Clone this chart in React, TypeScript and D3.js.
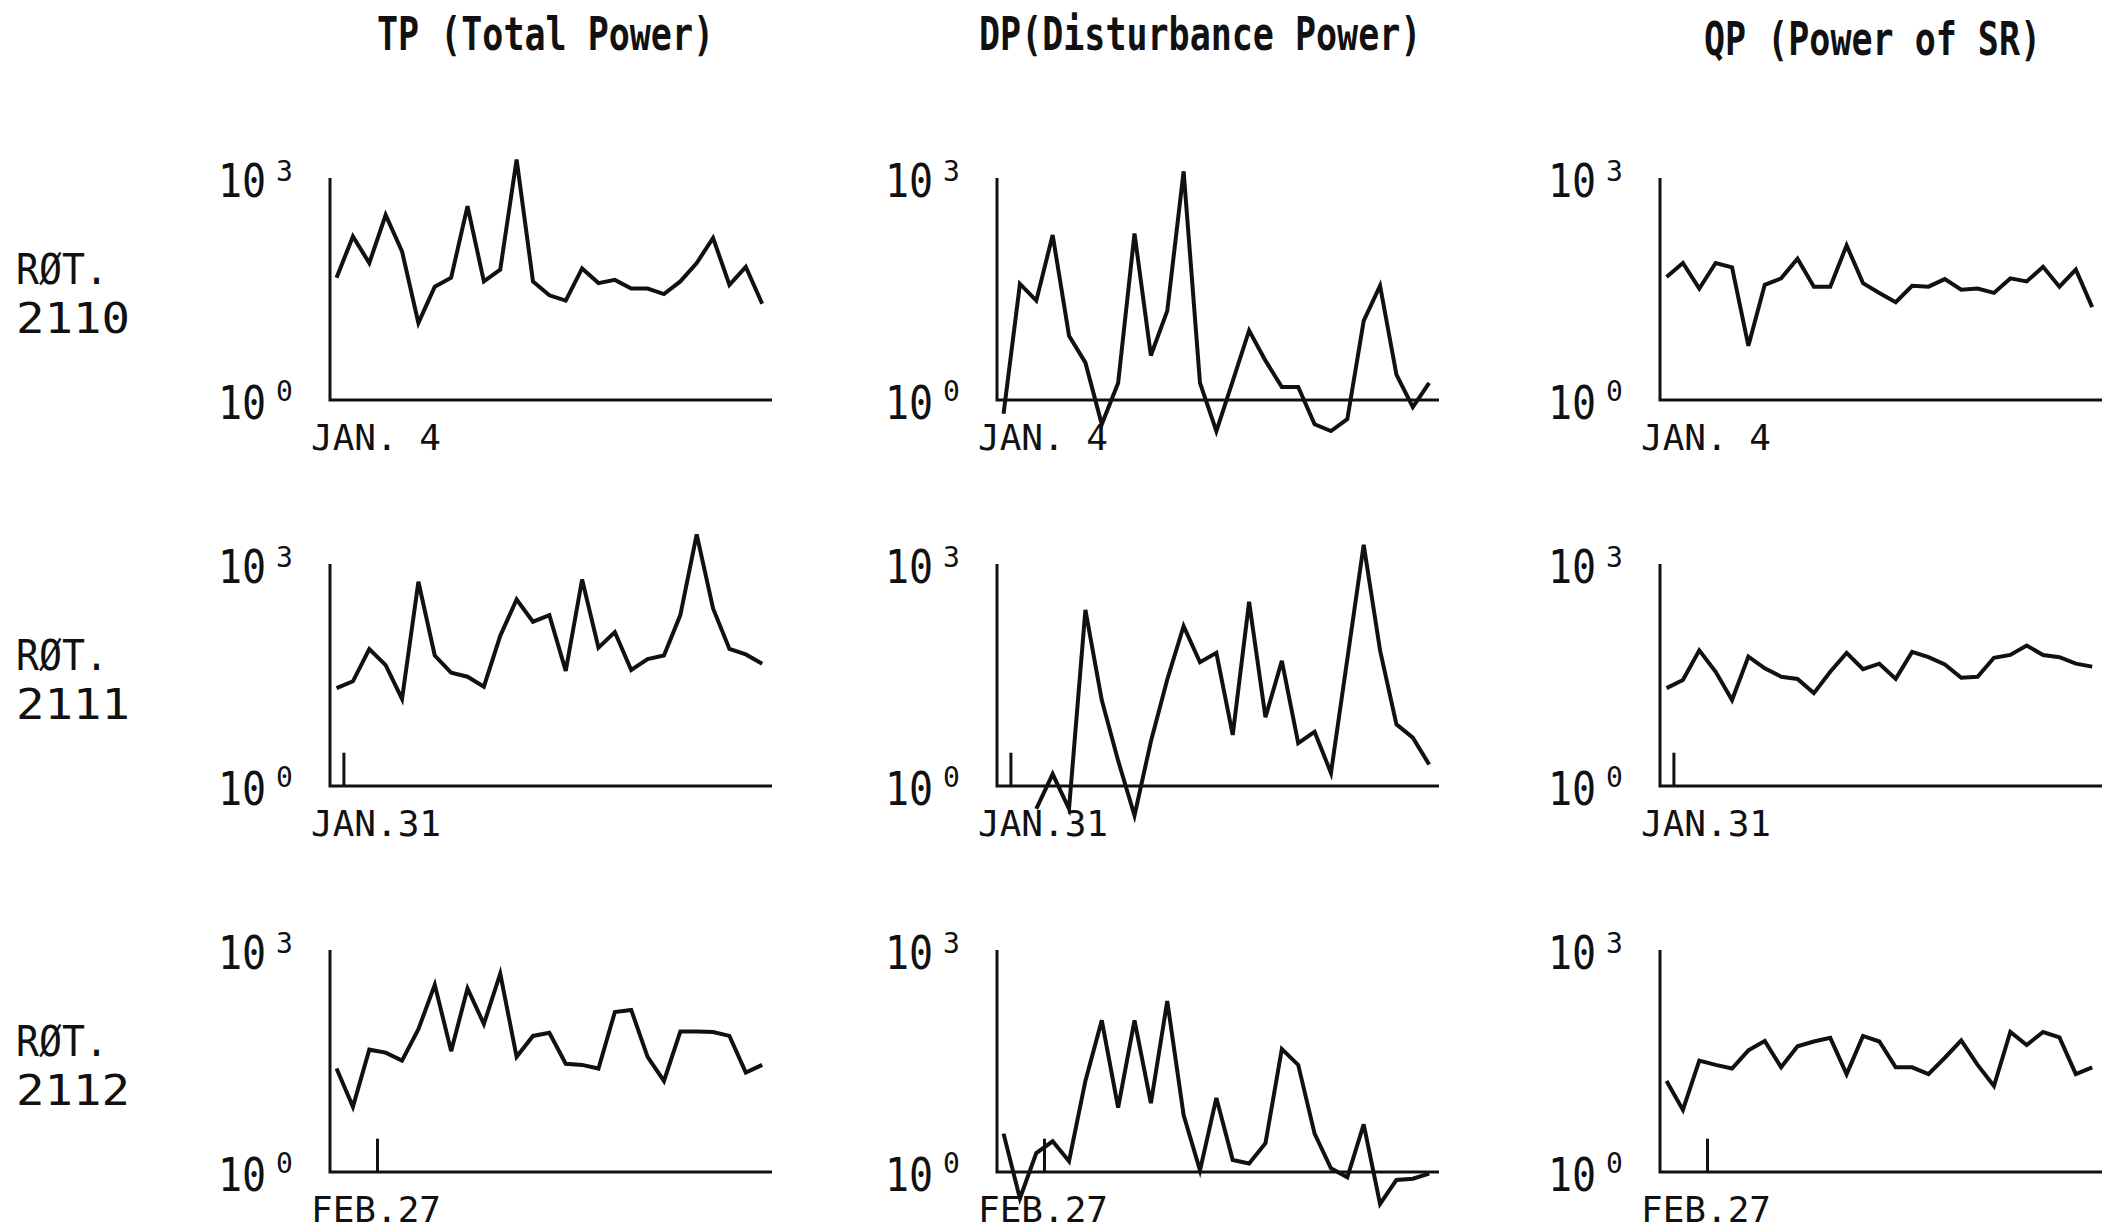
import * as d3 from "d3";
import React from "react";

// column titles and row labels
const columnTitles = ["TP (Total Power)", "DP(Disturbance Power)", "QP (Power of SR)"];
const rotations = ["2110", "2111", "2112"];
const startDates = ["JAN. 4", "JAN.31", "FEB.27"];
// small day marker on the time axis (day offset from the axis start), none for 2110
const markerDays = [null, 0.85, 2.9];
const yTickLabels = [
  { base: "10", exp: "3", value: 1000 },
  { base: "10", exp: "0", value: 1 },
];

// daily values, 27 days per rotation (log scale 10^0 .. 10^3)
const tpRot2110 = [45, 162, 71, 316, 102, 11, 34, 45, 417, 40, 58, 1778, 40, 26, 22, 60, 38, 42, 32, 32, 27, 40, 71, 155, 36, 63, 20];
const dpRot2110 = [0.65, 37, 22, 170, 7.4, 3.2, 0.47, 1.7, 178, 4.0, 16, 1230, 1.7, 0.38, 1.8, 8.7, 3.4, 1.5, 1.5, 0.47, 0.38, 0.55, 11.7, 35, 2.2, 0.8, 1.7];
const qpRot2110 = [46, 71, 32, 71, 62, 5.4, 36, 44, 81, 34, 34, 123, 38, 28, 21, 35, 34, 43, 31, 32, 28, 44, 40, 63, 34, 58, 18];

const tpRot2111 = [21, 26, 71, 43, 15, 575, 58, 34, 30, 22, 107, 331, 166, 204, 36, 617, 74, 120, 37, 52, 58, 204, 2512, 251, 71, 60, 45];
const dpRot2111 = [null, null, 0.49, 1.45, 0.49, 240, 14.5, 2.2, 0.4, 4.0, 27.5, 145, 47, 63, 4.9, 309, 8.5, 49, 3.8, 5.4, 1.5, 52, 1820, 68, 6.8, 4.5, 1.95];
const qpRot2111 = [21, 27, 68, 35, 14.5, 56, 39, 30, 28, 18, 35, 63, 38, 45, 28, 65, 55, 44, 29, 30, 54, 59, 79, 59, 55, 45, 41];

const tpRot2112 = [25, 7.6, 45, 41, 32, 85, 339, 43, 302, 100, 479, 36, 69, 76, 29, 28, 25, 145, 155, 36, 17, 79, 79, 78, 69, 22, 28];
const dpRot2112 = [3.3, 0.44, 1.8, 2.6, 1.4, 17, 112, 7.4, 112, 8.5, 204, 5.9, 1.05, 10, 1.45, 1.3, 2.45, 46, 28, 3.3, 1.12, 0.85, 4.4, 0.37, 0.78, 0.81, 0.95];
const qpRot2112 = [17, 6.9, 32, 28, 25, 44, 59, 26, 50, 58, 65, 21, 69, 58, 26, 26, 21, 35, 60, 28, 14.5, 78, 52, 78, 66, 21, 26];

const seriesByRow = [
  [tpRot2110, dpRot2110, qpRot2110],
  [tpRot2111, dpRot2111, qpRot2111],
  [tpRot2112, dpRot2112, qpRot2112],
];

const WIDTH = 2112;
const HEIGHT = 1229;
const FONT = "'DejaVu Sans Mono', monospace";
const INK = "#111";

// layout
const colAxisX = [330, 997, 1660];
const rowAxisY = [400, 786, 1172];
const axisW = 442;
const axisH = 222;
const titleX = [377, 979, 1704];
const titleBaseline = [50, 50, 55];

function Panel({ values, ax, by, date, markerDay }) {
  const x = d3.scaleLinear().domain([0, 27]).range([ax, ax + axisW]);
  const y = d3.scaleLog().domain([1, 1000]).range([by, by - axisH]);

  const line = d3
    .line()
    .defined((d) => d != null)
    .x((d, i) => x(i + 0.4))
    .y((d) => y(d));

  return (
    <g>
      {/* axes */}
      <path
        d={`M${ax},${y(1000)}V${by}H${ax + axisW}`}
        fill="none"
        stroke={INK}
        strokeWidth={3}
      />
      {markerDay != null && (
        <line
          x1={x(markerDay)}
          x2={x(markerDay)}
          y1={by}
          y2={y(Math.pow(10, 0.45))}
          stroke={INK}
          strokeWidth={3}
        />
      )}
      {yTickLabels.map((t) => (
        <g key={t.exp}>
          <text
            transform={`translate(${ax - 112},${y(t.value) + 19}) scale(1,1.16)`}
            fontSize={40}
          >
            {t.base}
          </text>
          <text
            x={ax - 54}
            y={y(t.value) + (t.value === 1 ? 1 : 3)}
            fontSize={28}
          >
            {t.exp}
          </text>
        </g>
      ))}
      <path
        d={line(values)}
        fill="none"
        stroke={INK}
        strokeWidth={4}
        strokeLinejoin="miter"
      />
      <text x={ax - 19} y={by + 50} fontSize={36}>
        {date}
      </text>
    </g>
  );
}

export default function App() {
  return (
    <svg
      width={WIDTH}
      height={HEIGHT}
      style={{ position: "absolute", left: 0, top: 0, display: "block", background: "#fff" }}
      fontFamily={FONT}
      fill={INK}
    >
      {columnTitles.map((t, c) => (
        <text
          key={t}
          transform={`translate(${titleX[c]},${titleBaseline[c]}) scale(1,1.3)`}
          fontSize={35}
          fontWeight="bold"
        >
          {t}
        </text>
      ))}

      {rotations.map((r, ri) => (
        <g key={r}>
          <text x={16} y={rowAxisY[ri] - 116} fontSize={42} textLength={92} lengthAdjust="spacingAndGlyphs">
            RØT.
          </text>
          <text x={16} y={rowAxisY[ri] - 67} fontSize={42} textLength={114} lengthAdjust="spacingAndGlyphs">
            {r}
          </text>
          {seriesByRow[ri].map((vals, ci) => (
            <Panel
              key={ci}
              values={vals}
              ax={colAxisX[ci]}
              by={rowAxisY[ri]}
              date={startDates[ri]}
              markerDay={markerDays[ri]}
            />
          ))}
        </g>
      ))}
    </svg>
  );
}
